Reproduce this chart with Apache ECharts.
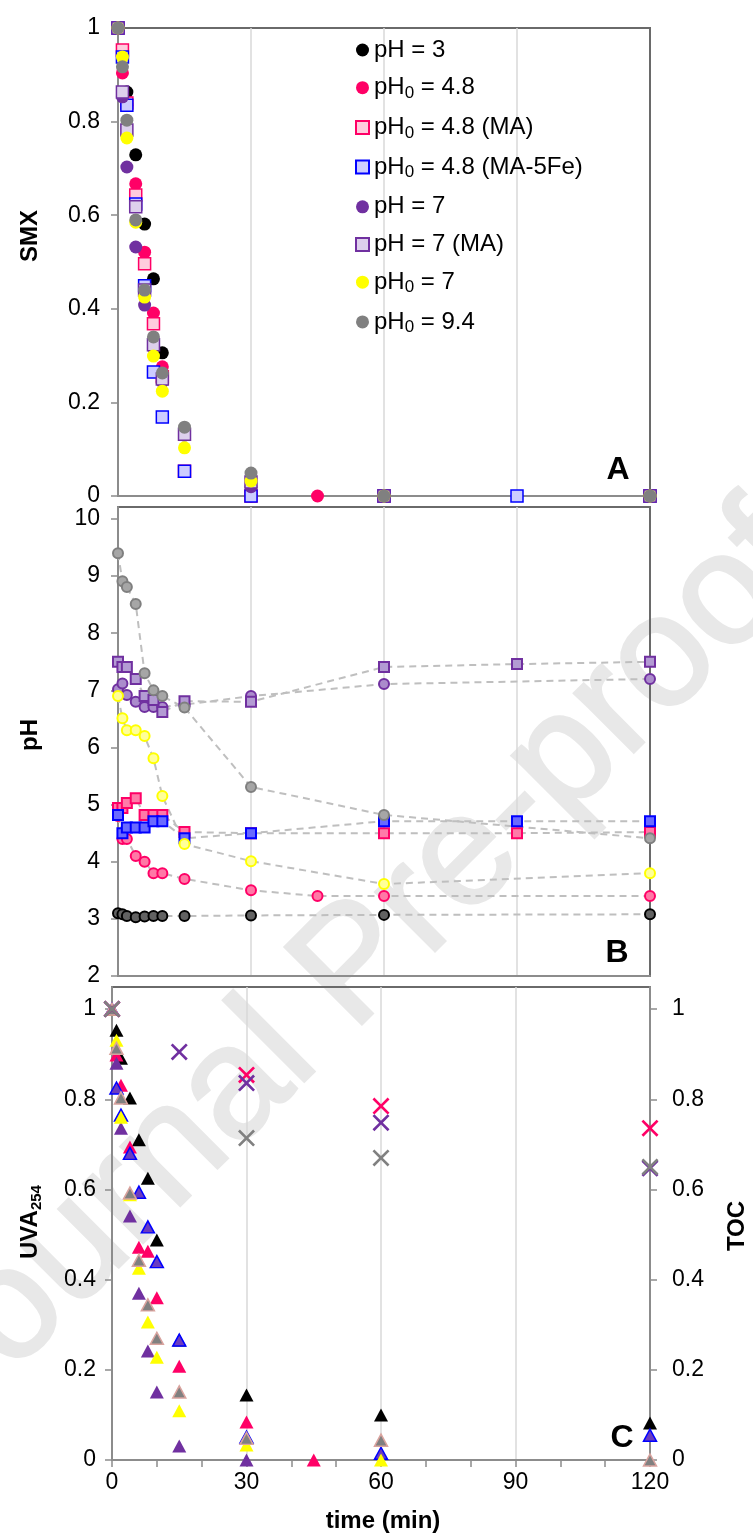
<!DOCTYPE html>
<html>
<head>
<meta charset="utf-8">
<script src="https://cdn.jsdelivr.net/npm/echarts@6/dist/echarts.min.js"></script>
<style>
  html, body { margin: 0; padding: 0; background: #ffffff; }
  #chart { width: 753px; height: 1537px; }
</style>
</head>
<body>
<div id="chart"></div>
<script>
const FONT = '"Liberation Sans", Arial, Helvetica, sans-serif';

// ---- Panel A: SMX (C/C0) against time (min) ----
const smxPH3      = [[0,1],[2,0.863],[4,0.729],[6,0.581],[8,0.464],[10,0.306],[15,0.14],[30,0],[60,0],[120,0]];
const smxPH048    = [[0,1],[1,0.904],[2,0.835],[4,0.667],[6,0.521],[8,0.391],[10,0.276],[15,0.135],[30,0.01],[45,0],[60,0],[120,0]];
const smxPH048MA  = [[0,1],[1,0.953],[2,0.84],[4,0.643],[6,0.496],[8,0.368],[10,0.255],[15,0.053],[30,0],[60,0],[120,0]];
const smxPH048Fe  = [[0,1],[1,0.938],[2,0.835],[4,0.624],[6,0.449],[8,0.265],[10,0.169],[15,0.053],[30,0],[60,0],[90,0],[120,0]];
const smxPH7      = [[0,1],[1,0.853],[2,0.703],[4,0.532],[6,0.408],[8,0.316],[10,0.244],[15,0.13],[30,0.02],[60,0],[120,0]];
const smxPH7MA    = [[0,1],[1,0.863],[2,0.782],[4,0.618],[6,0.44],[8,0.323],[10,0.25],[15,0.132],[30,0.03],[60,0],[120,0]];
const smxPH07     = [[0,1],[1,0.938],[2,0.765],[4,0.585],[6,0.425],[8,0.299],[10,0.224],[15,0.103],[30,0.032],[60,0],[120,0]];
const smxPH094    = [[0,1],[1,0.917],[2,0.803],[4,0.59],[6,0.44],[8,0.34],[10,0.263],[15,0.147],[30,0.049],[60,0],[120,0]];

// ---- Panel B: pH against time ----
const phPH3       = [[0,3.1],[1,3.08],[2,3.05],[4,3.03],[6,3.04],[8,3.05],[10,3.05],[15,3.05],[30,3.06],[60,3.07],[120,3.08]];
const phPH048     = [[0,4.8],[1,4.4],[2,4.4],[4,4.1],[6,4.0],[8,3.8],[10,3.8],[15,3.7],[30,3.5],[45,3.4],[60,3.4],[120,3.4]];
const phPH048MA   = [[0,4.94],[1,4.94],[2,5.03],[4,5.11],[6,4.82],[8,4.82],[10,4.82],[15,4.52],[30,4.5],[60,4.5],[90,4.5],[120,4.52]];
const phPH048Fe   = [[0,4.82],[1,4.5],[2,4.6],[4,4.6],[6,4.6],[8,4.71],[10,4.71],[15,4.41],[30,4.5],[60,4.71],[90,4.71],[120,4.71]];
const phPH7       = [[0,7.02],[1,7.12],[2,6.92],[4,6.8],[6,6.71],[8,6.71],[10,6.71],[15,6.75],[30,6.9],[60,7.11],[120,7.2]];
const phPH7MA     = [[0,7.5],[1,7.41],[2,7.41],[4,7.2],[6,6.9],[8,6.83],[10,6.62],[15,6.81],[30,6.8],[60,7.41],[90,7.46],[120,7.5]];
const phPH07      = [[0,6.9],[1,6.51],[2,6.3],[4,6.3],[6,6.2],[8,5.81],[10,5.15],[15,4.31],[30,4.01],[60,3.61],[120,3.8]];
const phPH094     = [[0,9.4],[1,8.91],[2,8.81],[4,8.51],[6,7.3],[8,7.0],[10,6.9],[15,6.7],[30,5.31],[60,4.82],[120,4.41]];

// ---- Panel C: UVA254 (triangles, left axis) and TOC (crosses, right axis) ----
const uvaPH3      = [[0,1],[1,0.953],[2,0.891],[4,0.803],[6,0.71],[8,0.625],[10,0.488],[15,0.266],[30,0.144],[60,0.1],[120,0.082]];
const uvaPH048    = [[0,1],[1,0.898],[2,0.831],[4,0.694],[6,0.472],[8,0.463],[10,0.36],[15,0.208],[30,0.084],[45,0]];
const uvaPH048Fe  = [[0,1],[1,0.825],[2,0.765],[4,0.68],[6,0.594],[8,0.517],[10,0.44],[15,0.266],[30,0.051],[60,0.015],[120,0.055]];
const uvaPH7      = [[0,1],[1,0.88],[2,0.736],[4,0.541],[6,0.37],[8,0.242],[10,0.151],[15,0.031],[30,0]];
const uvaPH07     = [[0,1],[1,0.931],[2,0.76],[4,0.588],[6,0.425],[8,0.306],[10,0.228],[15,0.109],[30,0.033],[60,0]];
const uvaPH094    = [[0,1],[1,0.913],[2,0.803],[4,0.592],[6,0.443],[8,0.344],[10,0.27],[15,0.151],[30,0.048],[60,0.044],[120,0]];
const tocPH048    = [[0,1],[30,0.854],[60,0.785],[120,0.736]];
const tocPH7      = [[0,1],[15,0.905],[30,0.836],[60,0.748],[120,0.647]];
const tocPH094    = [[0,1],[30,0.714],[60,0.67],[120,0.65]];

// ---- Axis ticks and legend entries ----
const smxTicks = [0, 0.2, 0.4, 0.6, 0.8, 1];
const phTicks  = [2, 3, 4, 5, 6, 7, 8, 9, 10];
const uvaTicks = [0, 0.2, 0.4, 0.6, 0.8, 1];
const tocTicks = [0, 0.2, 0.4, 0.6, 0.8, 1];
const legendNames = ['pH = 3', 'pH0 = 4.8', 'pH0 = 4.8 (MA)', 'pH0 = 4.8 (MA-5Fe)',
                     'pH = 7', 'pH = 7 (MA)', 'pH0 = 7', 'pH0 = 9.4'];

const AXIS_GRAY = '#8c8c8c';
const FRAME_GRAY = '#6a6a6a';
const GRID_GRAY = '#d9d9d9';

function yAxis(gridIndex, min, max, ticks, extra) {
  return Object.assign({
    type: 'value', gridIndex: gridIndex, min: min, max: max,
    axisLine: { show: true, onZero: false, lineStyle: { color: AXIS_GRAY, width: 2 } },
    axisTick: { show: true, inside: false, length: 7, customValues: ticks,
                lineStyle: { color: AXIS_GRAY, width: 1.5 } },
    axisLabel: { show: true, fontSize: 23, color: '#000', fontFamily: FONT, margin: 18,
                 customValues: ticks },
    splitLine: { show: false }
  }, extra || {});
}

function xAxis(gridIndex, withLabels) {
  return {
    type: 'value', gridIndex: gridIndex, min: 0, max: 120, interval: 30,
    axisLine: { show: true, onZero: false, lineStyle: { color: AXIS_GRAY, width: 2 } },
    axisTick: { show: withLabels, inside: false, length: 7, lineStyle: { color: AXIS_GRAY, width: 1.5 } },
    minorTick: { show: withLabels, splitNumber: 3, length: 7, lineStyle: { color: AXIS_GRAY, width: 1.5 } },
    axisLabel: { show: withLabels, fontSize: 23, color: '#000', fontFamily: FONT, margin: 11 },
    splitLine: { show: true, showMinLine: false, showMaxLine: false,
                 lineStyle: { color: GRID_GRAY, width: 1.5 } }
  };
}

function scatter(name, data, xi, yi, symbol, size, style, z) {
  return {
    type: 'scatter', name: name, data: data, xAxisIndex: xi, yAxisIndex: yi,
    symbol: symbol, symbolSize: size, itemStyle: Object.assign({ opacity: 1 }, style),
    z: z || 3, silent: true
  };
}

function dashed(data) {
  return {
    type: 'line', data: data, xAxisIndex: 1, yAxisIndex: 1, symbol: 'none', z: 2, silent: true,
    lineStyle: { color: '#bfbfbf', width: 2, type: [7, 5] }
  };
}

const CROSS = 'path://M0,1.1L1.1,0L5,3.9L8.9,0L10,1.1L6.1,5L10,8.9L8.9,10L5,6.1L1.1,10L0,8.9L3.9,5Z';

function legendLabel(name) {
  const m = name.match(/^pH0(.*)$/);
  if (m) return '{t|pH}{s|0}{t|' + m[1] + '}';
  return '{t|' + name + '}';
}

const titleRich = {
  t: { fontSize: 24, fontWeight: 'bold', fontFamily: FONT, fill: '#000', lineHeight: 28 },
  s: { fontSize: 15, fontWeight: 'bold', fontFamily: FONT, fill: '#000', lineHeight: 12, verticalAlign: 'bottom' }
};

function title(text, x, y, rot) {
  return { type: 'text', x: x, y: y, rotation: rot, z: 50,
    style: { text: text, rich: titleRich, fontSize: 24, fontWeight: 'bold', fontFamily: FONT,
             fill: '#000', align: 'center', verticalAlign: 'middle' } };
}

function letter(text, x, y) {
  return { type: 'text', x: x, y: y, z: 50,
    style: { text: text, fontSize: 32, fontWeight: 'bold', fontFamily: FONT, fill: '#000',
             align: 'center', verticalAlign: 'middle' } };
}

const seriesA = [
  scatter('pH = 3', smxPH3, 0, 0, 'circle', 13, { color: '#000000' }),
  scatter('pH0 = 4.8', smxPH048, 0, 0, 'circle', 13, { color: '#ff0066' }),
  scatter('pH0 = 4.8 (MA)', smxPH048MA, 0, 0, 'rect', 12, { color: '#ffccdd', borderColor: '#ff0066', borderWidth: 1.5 }),
  scatter('pH0 = 4.8 (MA-5Fe)', smxPH048Fe, 0, 0, 'rect', 12, { color: '#ccccff', borderColor: '#0000ff', borderWidth: 1.5 }),
  scatter('pH = 7', smxPH7, 0, 0, 'circle', 13, { color: '#7030a0' }),
  scatter('pH = 7 (MA)', smxPH7MA, 0, 0, 'rect', 12, { color: '#ddd0ec', borderColor: '#7030a0', borderWidth: 1.5 }),
  scatter('pH0 = 7', smxPH07, 0, 0, 'circle', 13, { color: '#ffff00' }),
  scatter('pH0 = 9.4', smxPH094, 0, 0, 'circle', 13, { color: '#808080' })
];

const phSets = [
  [phPH3, 'circle', { color: '#626262', borderColor: '#000000', borderWidth: 2 }],
  [phPH048, 'circle', { color: '#ff78a6', borderColor: '#ff0066', borderWidth: 2 }],
  [phPH048MA, 'rect', { color: '#ff7aa8', borderColor: '#ff0066', borderWidth: 2 }],
  [phPH048Fe, 'rect', { color: '#6a6aff', borderColor: '#0000ff', borderWidth: 2 }],
  [phPH7, 'circle', { color: '#ab8ccc', borderColor: '#7030a0', borderWidth: 2 }],
  [phPH7MA, 'rect', { color: '#b39bd3', borderColor: '#7030a0', borderWidth: 2 }],
  [phPH07, 'circle', { color: '#ffff99', borderColor: '#ffff00', borderWidth: 2 }],
  [phPH094, 'circle', { color: '#a6a6a6', borderColor: '#7f7f7f', borderWidth: 2 }]
];
const seriesB = phSets.map(s => dashed(s[0]))
  .concat(phSets.map((s, i) => scatter('pH series ' + i, s[0], 1, 1, s[1], 10, s[2], 4)));

const seriesC = [
  scatter('UVA pH = 3', uvaPH3, 2, 2, 'triangle', [14, 13], { color: '#000000' }),
  scatter('UVA pH0 = 4.8', uvaPH048, 2, 2, 'triangle', [14, 13], { color: '#ff0066' }),
  scatter('UVA pH0 = 4.8 (MA-5Fe)', uvaPH048Fe, 2, 2, 'triangle', [13, 12], { color: '#6a3cc0', borderColor: '#0000ff', borderWidth: 1.5 }),
  scatter('UVA pH = 7', uvaPH7, 2, 2, 'triangle', [14, 13], { color: '#7030a0' }),
  scatter('UVA pH0 = 7', uvaPH07, 2, 2, 'triangle', [14, 13], { color: '#ffff00' }),
  scatter('UVA pH0 = 9.4', uvaPH094, 2, 2, 'triangle', [13, 12], { color: '#808080', borderColor: '#d9a39e', borderWidth: 1.5 }),
  scatter('TOC pH0 = 4.8', tocPH048, 2, 3, CROSS, 17, { color: '#ff0066' }, 5),
  scatter('TOC pH = 7', tocPH7, 2, 3, CROSS, 17, { color: '#7030a0' }, 5),
  scatter('TOC pH0 = 9.4', tocPH094, 2, 3, CROSS, 17, { color: '#808080' }, 5)
];

const legendIcons = ['circle', 'circle', 'rect', 'rect', 'circle', 'rect', 'circle', 'circle'];

const option = {
  animation: false,
  backgroundColor: '#ffffff',
  grid: [
    { left: 118, top: 28, width: 532, height: 468, show: true, borderColor: FRAME_GRAY, borderWidth: 2, backgroundColor: 'transparent', outerBoundsMode: 'none' },
    { left: 118, top: 507, width: 532, height: 469, show: true, borderColor: FRAME_GRAY, borderWidth: 2, backgroundColor: 'transparent', outerBoundsMode: 'none' },
    { left: 112, top: 987, width: 538, height: 473, show: true, borderColor: FRAME_GRAY, borderWidth: 2, backgroundColor: 'transparent', outerBoundsMode: 'none' }
  ],
  xAxis: [xAxis(0, false), xAxis(1, false), xAxis(2, true)],
  yAxis: [
    yAxis(0, 0, 1, smxTicks, { interval: 0.2 }),
    yAxis(1, 2, 10.21, phTicks, { interval: 1 }),
    yAxis(2, 0, 1.049, uvaTicks, { axisLabel: { show: true, fontSize: 23, color: '#000', fontFamily: FONT, margin: 16, customValues: uvaTicks } }),
    yAxis(2, 0, 1.049, tocTicks, { position: 'right', axisLabel: { show: true, fontSize: 23, color: '#000', fontFamily: FONT, margin: 22, customValues: tocTicks } })
  ],
  legend: {
    orient: 'vertical', left: 355, top: 38, padding: 0, itemWidth: 13, itemHeight: 13, itemGap: 13.7,
    selectedMode: false,
    data: legendNames.map((n, i) => ({ name: n, icon: legendIcons[i] })),
    formatter: legendLabel,
    textStyle: {
      fontSize: 24, color: '#000', fontFamily: FONT,
      rich: {
        t: { fontSize: 24, color: '#000', fontFamily: FONT, lineHeight: 28 },
        s: { fontSize: 17, color: '#000', fontFamily: FONT, lineHeight: 14, verticalAlign: 'bottom' }
      }
    }
  },
  graphic: [
    { type: 'text', x: 356, y: 968, rotation: Math.PI / 4, z: -10, silent: true,
      style: { text: 'Journal Pre-proof', fontSize: 158, fontFamily: FONT, fill: '#e8e8e8',
               stroke: '#e8e8e8', lineWidth: 3, align: 'center', verticalAlign: 'middle' } },
    title('{t|SMX}', 30, 236, Math.PI / 2),
    title('{t|pH}', 30, 735, Math.PI / 2),
    title('{t|UVA}{s|254}', 30, 1222, Math.PI / 2),
    title('{t|TOC}', 737, 1226, Math.PI / 2),
    title('{t|time (min)}', 383, 1521, 0),
    letter('A', 618, 470),
    letter('B', 617, 953),
    letter('C', 622, 1438)
  ],
  series: seriesA.concat(seriesB, seriesC)
};

const chart = echarts.init(document.getElementById('chart'));
chart.setOption(option);
</script>
</body>
</html>
